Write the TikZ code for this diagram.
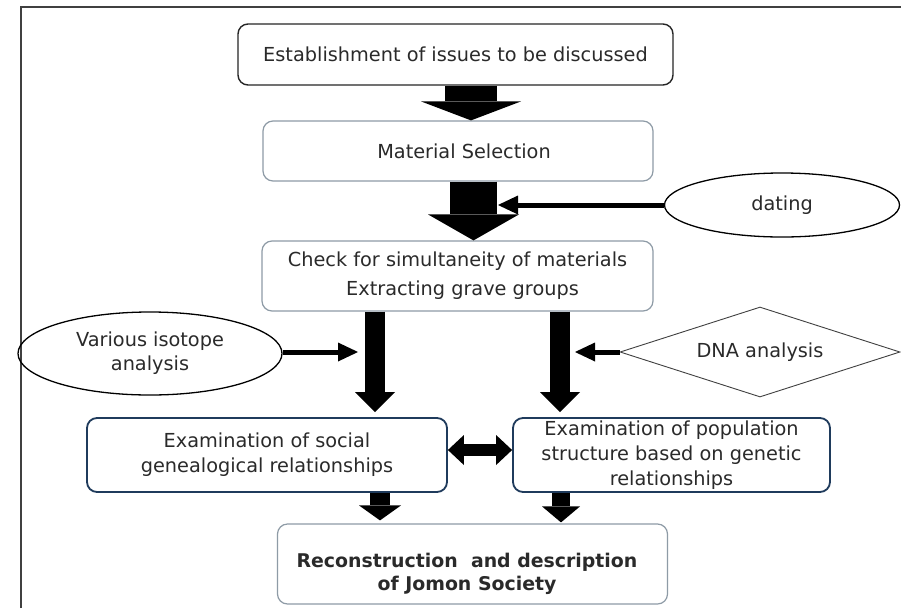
\documentclass[tikz,border=0pt]{standalone}
\usepackage{fontspec}
\setmainfont{DejaVu Sans}
\usetikzlibrary{shapes.geometric,arrows.meta,calc}
\definecolor{txt}{HTML}{2A2A2A}
\definecolor{navy}{HTML}{1F3B5C}
\definecolor{grayb}{HTML}{8E9BA6}
\definecolor{framec}{HTML}{404040}
\tikzset{
  box/.style={draw, rounded corners=10pt, text=txt, align=center, inner sep=0pt,
    font=\fontsize{19.3}{25}\selectfont},
  topbox/.style={box, draw=black!85, line width=1.4pt},
  graybox/.style={box, draw=grayb, line width=1.2pt},
  navybox/.style={box, draw=navy, line width=1.8pt},
  oval/.style={ellipse, draw=black, line width=1.3pt, text=txt, align=center, inner sep=0pt,
    font=\fontsize{19.3}{24}\selectfont},
  rhomb/.style={diamond, aspect=3.1, draw=black!75, line width=0.9pt, text=txt, align=center, inner sep=0pt,
    font=\fontsize{19.3}{24}\selectfont},
  feed/.style={draw=black, line width=5pt, -{Triangle[width=19pt,length=20pt,line width=0pt]}},
}
\begin{document}
\begin{tikzpicture}[x=1pt,y=-1pt]
\useasboundingbox (0,0) rectangle (901,608);
\fill[white] (0,0) rectangle (901,608);
% frame
\draw[framec, line width=2.5pt] (21,608) -- (21,7) -- (901,7);

% boxes
\node[topbox, minimum width=435pt, minimum height=61pt] (b1) at (455.5,54.5)
  {Establishment of issues to be discussed};
\node[graybox, minimum width=390pt, minimum height=60pt] (b2) at (458,151)
  {\hspace*{12pt}Material Selection};
\node[graybox, minimum width=391pt, minimum height=70pt] (b3) at (457.5,276)
  {Check for simultaneity of materials\\[4pt]\hspace*{10pt}Extracting grave groups};
\node[navybox, minimum width=360pt, minimum height=74pt] (b4) at (267,455)
  {Examination of social\\genealogical relationships};
\node[navybox, minimum width=317pt, minimum height=74pt] (b5) at (671.5,455)
  {Examination of population\\structure based on genetic\\relationships};
\node[graybox, minimum width=390pt, minimum height=80pt] (b6) at (472.5,564) {};
\node[text=txt, align=center, inner sep=0pt, font=\fontsize{18.9}{23}\selectfont\bfseries] (t6) at (467,574)
  {Reconstruction\ \ and description\\of Jomon Society};

% side items
\node[oval, minimum width=235pt, minimum height=64pt] (dating) at (782,205) {dating};
\node[oval, minimum width=264pt, minimum height=83pt] (iso) at (150,353.5) {Various isotope\\analysis};
\node[rhomb, minimum width=280pt, minimum height=90pt] (dna) at (760,352) {DNA analysis};

% helper coordinates
\coordinate (c1) at (471,0);
\coordinate (c2) at (473.5,0);
\coordinate (c3) at (375,0);
\coordinate (c4) at (560,0);
\coordinate (c5) at (380,0);
\coordinate (c6) at (561,0);
\coordinate (dtip) at (498,205);
\coordinate (itip) at (358,352);
\coordinate (ntip) at (575,352);

% main block arrows
\draw[line width=52pt, -{Triangle[width=100pt,length=19pt,line width=0pt]}]
  (b1.south -| c1) -- (b2.north -| c1);
\draw[line width=47pt, -{Triangle[width=91pt,length=26pt,line width=0pt]}]
  (b2.south -| c2) -- (b3.north -| c2);
\draw[line width=20pt, -{Triangle[width=40pt,length=20pt,line width=0pt]}]
  (b3.south -| c3) -- ($(b4.north -| c3)+(0,-5)$);
\draw[line width=20pt, -{Triangle[width=40pt,length=20pt,line width=0pt]}]
  (b3.south -| c4) -- ($(b5.north -| c4)+(0,-5)$);
\draw[line width=20pt, -{Triangle[width=42pt,length=15pt,line width=0pt]}]
  (b4.south -| c5) -- ($(b6.north -| c5)+(0,-3)$);
\draw[line width=18pt, -{Triangle[width=38pt,length=16pt,line width=0pt]}]
  (b5.south -| c6) -- ($(b6.north -| c6)+(0,-1)$);
\draw[line width=12pt, {Triangle[width=30pt,length=16pt,line width=0pt]}-{Triangle[width=30pt,length=16pt,line width=0pt]}]
  ($(b4.east)+(0,-5)$) -- ($(b5.west)+(0,-5)$);

% feeding arrows
\draw[feed] (dating.west) -- (dtip);
\draw[feed] (iso.east |- itip) -- (itip);
\draw[feed] (dna.west) -- (ntip);
\end{tikzpicture}
\end{document}
